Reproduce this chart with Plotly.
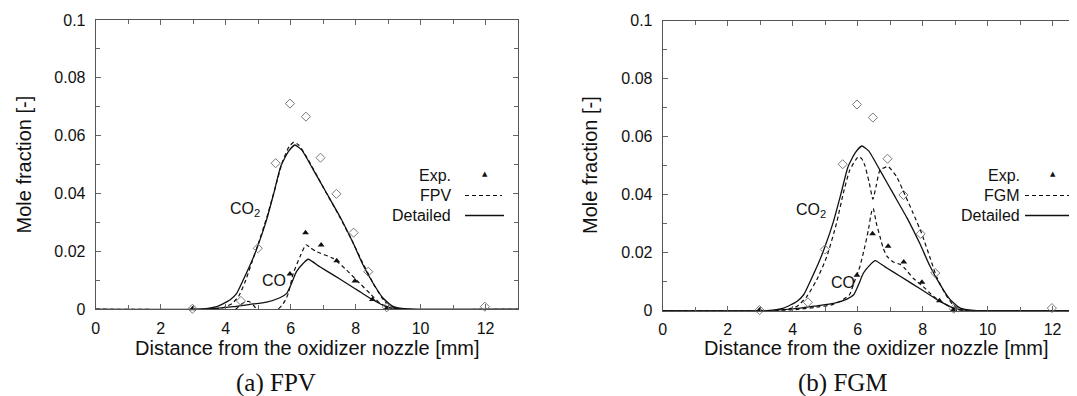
import plotly.graph_objects as go

# ---------------- data ----------------
# experimental points (same in both panels)
exp_co2_x = [2.98, 4.47, 4.99, 5.54, 5.98, 6.47, 6.92, 7.41, 7.94, 8.39, 8.96, 11.98]
exp_co2_y = [0.0002, 0.0029, 0.0211, 0.0505, 0.0711, 0.0666, 0.0524, 0.0399, 0.0265, 0.0130, 0.0007, 0.0009]
exp_co_x = [2.98, 5.98, 6.46, 6.94, 7.42, 7.98, 8.52, 8.96]
exp_co_y = [0.0002, 0.0122, 0.0265, 0.0222, 0.0168, 0.0098, 0.0034, 0.0004]

# detailed chemistry (same in both panels)
det_co2_x = [0, 3.0, 3.4, 3.72, 4.13, 4.34, 4.54, 4.80, 5.0, 5.26, 5.48, 5.70, 5.93, 6.13, 6.34, 6.70,
             7.11, 7.52, 7.93, 8.23, 8.54, 8.85, 9.16, 9.57, 10.0, 13]
det_co2_y = [0, 0, 0.0002, 0.0009, 0.0032, 0.0055, 0.0101, 0.0165, 0.0222, 0.0309, 0.0400, 0.0495, 0.0545,
             0.0568, 0.0551, 0.0482, 0.0401, 0.0320, 0.0228, 0.0153, 0.0090, 0.0038, 0.0009, 0.0001, 0, 0]
det_co_x = [0, 3.2, 4.23, 4.75, 5.26, 5.67, 5.88, 6.03, 6.18, 6.39, 6.54, 6.90, 7.31, 7.72, 8.13, 8.54,
            8.95, 9.36, 10, 13]
det_co_y = [0, 0, 0.0009, 0.0017, 0.0025, 0.0040, 0.0055, 0.0090, 0.0130, 0.0159, 0.0173, 0.0147, 0.0119,
            0.0090, 0.0061, 0.0032, 0.0009, 0.0001, 0, 0]

# FPV model
fpv_co2_x = [0, 3.3, 3.9, 4.2, 4.4, 4.6, 4.8, 5.0, 5.26, 5.5, 5.75, 5.95, 6.1, 6.25, 6.5, 6.7, 7.1, 7.5,
             7.9, 8.2, 8.6, 8.9, 9.2, 9.5, 13]
fpv_co2_y = [0, 0, 0.0005, 0.002, 0.0045, 0.0095, 0.016, 0.0225, 0.0315, 0.041, 0.051, 0.0562, 0.0578,
             0.0568, 0.0525, 0.0485, 0.0402, 0.0322, 0.0235, 0.0165, 0.0078, 0.0027, 0.0006, 0, 0]
fpv_co_x = [0, 4.3, 4.45, 4.6, 4.72, 4.85, 4.97, 5.6, 5.72, 5.83, 5.93, 6.08, 6.29, 6.47, 6.62, 6.80,
            7.31, 7.72, 8.03, 8.44, 8.75, 9.06, 9.4, 13]
fpv_co_y = [0, 0, 0.0015, 0.0026, 0.0027, 0.0015, 0, 0, 0.0012, 0.003, 0.0055, 0.0124, 0.0182, 0.0223,
            0.0212, 0.0199, 0.0176, 0.0136, 0.0101, 0.0055, 0.0021, 0.0004, 0, 0]

# FGM model
fgm_co2_x = [0, 3.5, 4.12, 4.43, 4.74, 5.05, 5.35, 5.56, 5.76, 6.02, 6.12, 6.22, 6.35, 6.47, 6.58, 6.69,
             6.94, 7.2, 7.46, 7.71, 7.97, 8.22, 8.43, 8.69, 8.94, 9.25, 13]
fgm_co2_y = [0, 0, 0.0014, 0.0048, 0.0106, 0.0186, 0.0301, 0.0405, 0.0485, 0.0531, 0.0525, 0.0502,
             0.0445, 0.0385, 0.0435, 0.0485, 0.0497, 0.0462, 0.0399, 0.0336, 0.0267, 0.0186, 0.0117,
             0.006, 0.002, 0, 0]
fgm_co_x = [0, 3.6, 4.2, 4.8, 5.2, 5.5, 5.75, 5.92, 6.07, 6.22, 6.33, 6.43, 6.48, 6.58, 6.69, 6.79, 6.9,
            7.1, 7.3, 7.46, 7.71, 8.02, 8.33, 8.63, 8.94, 9.3, 13]
fgm_co_y = [0, 0, 0.0005, 0.0013, 0.002, 0.0035, 0.0055, 0.0106, 0.0152, 0.022, 0.0278, 0.0341, 0.0353,
            0.030, 0.0255, 0.0215, 0.0188, 0.0168, 0.016, 0.0145, 0.0112, 0.0083, 0.0050, 0.0027,
            0.0008, 0, 0]

# axes ticks
x_tickvals = [0, 2, 4, 6, 8, 10, 12]
x_ticktext = ["0", "2", "4", "6", "8", "10", "12"]
x_minorvals = [1, 3, 5, 7, 9, 11, 13]
y_tickvals = [0, 0.02, 0.04, 0.06, 0.08, 0.1]
y_ticktext = ["0", "0.02", "0.04", "0.06", "0.08", "0.1"]
y_minorvals = [0.01, 0.03, 0.05, 0.07, 0.09]

panels = [
    dict(name="FPV", caption="(a) FPV", xa="x", ya="y",
         co2_x=fpv_co2_x, co2_y=fpv_co2_y, co_x=fpv_co_x, co_y=fpv_co_y),
    dict(name="FGM", caption="(b) FGM", xa="x2", ya="y2",
         co2_x=fgm_co2_x, co2_y=fgm_co2_y, co_x=fgm_co_x, co_y=fgm_co_y),
]

W, H = 1077, 396
OFF = 8  # page body margin: the figure is drawn 8px right/down in the page
FONT = "Liberation Sans, Arial, sans-serif"
SERIF = "Liberation Serif, Times New Roman, serif"
INK = "#111111"


def px(xp):  # page x pixel -> paper coordinate
    return (xp - OFF) / W


def py(yp):  # page y pixel -> paper coordinate
    return (H - (yp - OFF)) / H


fig = go.Figure()

line_solid = dict(color=INK, width=1.3, shape="spline", smoothing=0.5)
line_dash = dict(color=INK, width=1.2, dash="4px,3px", shape="spline", smoothing=0.5)

for p in panels:
    xa, ya = p["xa"], p["ya"]
    fig.add_trace(go.Scatter(x=det_co2_x, y=det_co2_y, mode="lines", line=line_solid,
                             xaxis=xa, yaxis=ya, showlegend=False))
    fig.add_trace(go.Scatter(x=det_co_x, y=det_co_y, mode="lines", line=line_solid,
                             xaxis=xa, yaxis=ya, showlegend=False))
    fig.add_trace(go.Scatter(x=p["co2_x"], y=p["co2_y"], mode="lines", line=line_dash,
                             xaxis=xa, yaxis=ya, showlegend=False))
    fig.add_trace(go.Scatter(x=p["co_x"], y=p["co_y"], mode="lines", line=line_dash,
                             xaxis=xa, yaxis=ya, showlegend=False))
    fig.add_trace(go.Scatter(x=exp_co2_x, y=exp_co2_y, mode="markers",
                             marker=dict(symbol="diamond-open", size=7, color="#7a7a7a",
                                         line=dict(width=1, color="#7a7a7a")),
                             cliponaxis=False, xaxis=xa, yaxis=ya, showlegend=False))
    fig.add_trace(go.Scatter(x=exp_co_x, y=exp_co_y, mode="markers",
                             marker=dict(symbol="triangle-up", size=6, color=INK),
                             cliponaxis=False, xaxis=xa, yaxis=ya, showlegend=False))


def xaxis_cfg(domain, rng):
    return dict(domain=domain, range=rng, tickmode="array", tickvals=x_tickvals, ticktext=x_ticktext,
                ticks="inside", ticklen=5, tickcolor="#666", tickwidth=1,
                minor=dict(tickmode="array", tickvals=x_minorvals, ticks="inside", ticklen=4,
                           tickcolor="#666"),
                showline=True, linecolor="#555", linewidth=1, mirror="allticks",
                showgrid=False, zeroline=False, automargin=False,
                tickfont=dict(family=FONT, size=16, color=INK), ticklabelstandoff=4)


def yaxis_cfg(domain, anchor):
    return dict(domain=domain, range=[0, 0.1], anchor=anchor, tickmode="array",
                tickvals=y_tickvals, ticktext=y_ticktext,
                ticks="inside", ticklen=5, tickcolor="#666", tickwidth=1,
                minor=dict(tickmode="array", tickvals=y_minorvals, ticks="inside", ticklen=4,
                           tickcolor="#666"),
                showline=True, linecolor="#555", linewidth=1, mirror="allticks",
                showgrid=False, zeroline=False, automargin=False,
                tickfont=dict(family=FONT, size=16, color=INK), ticklabelstandoff=6)


left_x = [px(95.7), px(518.0)]
right_x = [px(662.7), min(1.0, px(1085.2))]
ydom_l = [py(309.3), py(20.0)]
ydom_r = [py(310.7), py(20.7)]

fig.update_layout(
    width=W, height=H, margin=dict(l=0, r=0, t=0, b=0, pad=0),
    paper_bgcolor="white", plot_bgcolor="white", showlegend=False,
    font=dict(family=FONT, color=INK),
    xaxis=dict(**xaxis_cfg(left_x, [0, 13]), anchor="y"),
    yaxis=yaxis_cfg(ydom_l, "x"),
    xaxis2=dict(**xaxis_cfg(right_x, [0, 13]), anchor="y2"),
    yaxis2=yaxis_cfg(ydom_r, "x2"),
)

ann = []
shapes = []
for cx, ycx, cap_x, cap in [(307.6, 23.5, 276, "(a) FPV"), (876, 590, 843, "(b) FGM")]:
    ann.append(dict(text="Distance from the oxidizer nozzle [mm]", x=px(cx), y=py(348),
                    xref="paper", yref="paper", showarrow=False, xanchor="center", yanchor="middle",
                    font=dict(family=FONT, size=20, color=INK)))
    ann.append(dict(text="Mole fraction [-]", x=px(ycx), y=py(165), textangle=-90,
                    xref="paper", yref="paper", showarrow=False, xanchor="center", yanchor="middle",
                    font=dict(family=FONT, size=20, color=INK)))
    ann.append(dict(text=cap, x=px(cap_x), y=py(383), xref="paper", yref="paper",
                    showarrow=False, xanchor="center", yanchor="middle",
                    font=dict(family=SERIF, size=25, color=INK)))

for xa, ya, x_co2, x_co in [("x", "y", 5.12, 5.92), ("x2", "y2", 5.09, 5.98)]:
    ann.append(dict(text="CO<sub>2</sub>", x=x_co2, y=0.0345, xref=xa, yref=ya, showarrow=False,
                    xanchor="right", yanchor="middle", font=dict(family=FONT, size=16, color=INK)))
    ann.append(dict(text="CO", x=x_co, y=0.0098, xref=xa, yref=ya, showarrow=False,
                    xanchor="right", yanchor="middle", font=dict(family=FONT, size=16, color=INK)))

for txt_r, tri_x, s0, s1, model in [(453, 485, 465, 504, "FPV"), (1022, 1053, 1025, 1072, "FGM")]:
    rows = [175.5, 195.5, 215.5]
    for label, yy in zip(["Exp.", model, "Detailed"], rows):
        ann.append(dict(text=label, x=px(txt_r), y=py(yy), xref="paper", yref="paper",
                        showarrow=False, xanchor="right", yanchor="middle",
                        font=dict(family=FONT, size=16, color=INK)))
    ann.append(dict(text="▲", x=px(tri_x), y=py(rows[0] - 1), xref="paper", yref="paper",
                    showarrow=False, xanchor="center", yanchor="middle",
                    font=dict(family="DejaVu Sans", size=7, color=INK)))
    shapes.append(dict(type="line", xref="paper", yref="paper", x0=px(s0), x1=px(s1 - 2),
                       y0=py(rows[1]), y1=py(rows[1]),
                       line=dict(color=INK, width=1.2, dash="4px,3px")))
    shapes.append(dict(type="line", xref="paper", yref="paper", x0=px(s0), x1=px(s1),
                       y0=py(rows[2]), y1=py(rows[2]),
                       line=dict(color=INK, width=1.3)))

fig.update_layout(annotations=ann, shapes=shapes)

fig.write_html("out.html")
